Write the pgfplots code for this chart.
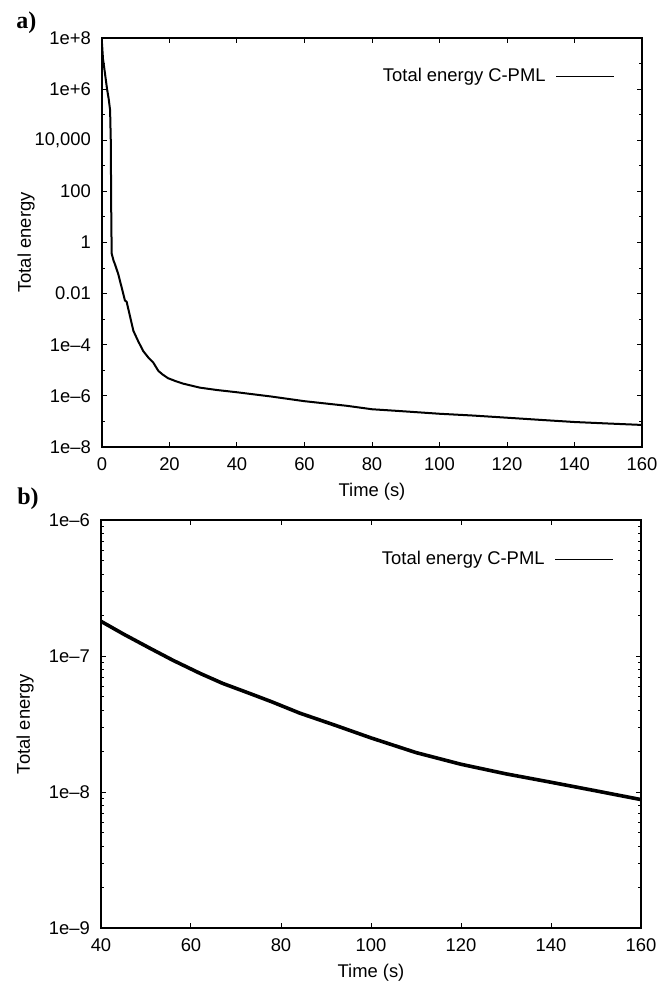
\documentclass[border=0pt]{standalone}
\usepackage{fontspec}
\setmainfont{Liberation Sans}
\newfontfamily\panelfont{Liberation Serif}
\usepackage{pgfplots}
\pgfplotsset{compat=1.18}

\pgfplotsset{
  myax/.style={
    scale only axis, width=270pt,
    axis line style={line width=0.6pt},
    every tick/.style={black, line width=0.5pt},
    major tick length=2.7pt, minor tick length=1.6pt,
    tick align=inside,
    font=\fontsize{9.2}{11}\selectfont,
    /pgf/number format/assume math mode=true,
    xticklabel style={yshift=-2pt},
    yticklabel style={xshift=-2pt},
    ylabel style={at={(axis description cs:-0.1407,0.5)}, anchor=center},
    xlabel style={at={(axis description cs:0.5,-0.11)}, anchor=center},
    legend style={draw=none, fill=none, at={(axis description cs:0.95,0.907)}, anchor=east, inner sep=0pt, font=\fontsize{9.2}{11}\selectfont,
      /tikz/every odd column/.append style={column sep=3pt}},
    legend cell align=right, legend plot pos=right,
    legend image code/.code={\draw[black, line width=0.5pt] (0pt,0pt) -- (29pt,0pt);},
  }
}

\begin{document}
\begin{tikzpicture}
\path[use as bounding box] (-51pt,19pt) rectangle (283.5pt,-474pt);

\begin{axis}[ymode=log, myax,
  at={(0pt,0pt)}, anchor=north west, height=204.5pt,
  xmin=0, xmax=160, ymin=1e-8, ymax=1e8,
  xtick={0,20,...,160},
  ytick={1e-8,1e-6,1e-4,1e-2,1,1e2,1e4,1e6,1e8},
  yticklabels={1e–8,1e–6,1e–4,0.01,1,100,{10,000},1e+6,1e+8},
  minor ytick={1e-7,1e-5,1e-3,1e-1,1e1,1e3,1e5,1e7},
  xlabel={Time (s)}, ylabel={Total energy},
]
\addplot[black, line width=1pt] coordinates {
(0,6e7) (0.3,1.5e7) (0.8,5e6) (1.5,1e6) (2.0,4e5) (2.4,1.5e5) (2.6,1e4) (2.75,10) (2.87,0.37)
(3.4,0.2) (3.85,0.14) (4.8,0.059) (5.8,0.018) (6.8,0.0054) (7.3,0.0048) (8.3,0.0013)
(9.3,3.5e-4) (10.7,1.4e-4) (12.2,5.7e-5) (13.7,3.2e-5) (15.2,2.0e-5) (16.7,9.5e-6) (18,6.8e-6)
(19.6,4.9e-6) (22,3.7e-6) (24.1,3.0e-6) (29,2.1e-6) (34,1.7e-6) (39.7,1.4e-6) (50,9.5e-7)
(60,6.2e-7) (72.5,4.1e-7) (80,3.0e-7) (87.3,2.6e-7) (100,2.0e-7) (110,1.7e-7) (120,1.4e-7)
(130,1.15e-7) (140,9.5e-8) (150,8.3e-8) (160,7.3e-8)
};
\addlegendentry{Total energy C-PML}
\end{axis}
\node[anchor=west, inner sep=0pt] at (-43pt,7.5pt) {\panelfont\bfseries\fontsize{12}{14}\selectfont a)};

\begin{axis}[ymode=log, myax,
  at={(-0.5pt,-241pt)}, anchor=north west, height=204pt,
  xmin=40, xmax=160, ymin=1e-9, ymax=1e-6,
  xtick={40,60,...,160},
  ytick={1e-9,1e-8,1e-7,1e-6},
  yticklabels={1e–9,1e–8,1e–7,1e–6},
  minor ytick={2e-9,3e-9,4e-9,5e-9,6e-9,7e-9,8e-9,9e-9,2e-8,3e-8,4e-8,5e-8,6e-8,7e-8,8e-8,9e-8,2e-7,3e-7,4e-7,5e-7,6e-7,7e-7,8e-7,9e-7},
  xlabel={Time (s)}, ylabel={Total energy},
  legend style={at={(axis description cs:0.95,0.904)}},
]
\addplot[black, line width=1.8pt] coordinates {
(40,1.8e-7) (45,1.45e-7) (50.9,1.14e-7) (56,9.3e-8) (62,7.46e-8) (67,6.3e-8) (73.1,5.3e-8)
(78,4.6e-8) (84.2,3.8e-8) (92,3.1e-8) (100,2.5e-8) (110,1.95e-8) (120,1.6e-8) (130,1.36e-8)
(140,1.18e-8) (150,1.02e-8) (160,8.8e-9)
};
\addlegendentry{Total energy C-PML}
\end{axis}
\node[anchor=west, inner sep=0pt] at (-42.5pt,-230.5pt) {\panelfont\bfseries\fontsize{12}{14}\selectfont b)};
\end{tikzpicture}
\end{document}
